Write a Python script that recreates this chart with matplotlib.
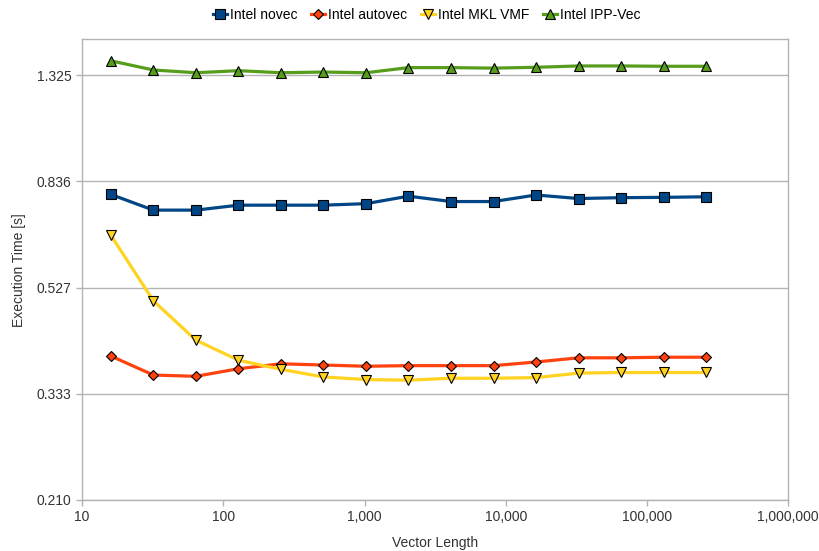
import matplotlib.pyplot as plt
import matplotlib.ticker as ticker

plt.rcParams['font.family'] = ['Liberation Sans', 'DejaVu Sans']

# vector lengths 2^4 .. 2^18
longitudes = [16, 32, 64, 128, 256, 512, 1024, 2048, 4096, 8192,
              16384, 32768, 65536, 131072, 262144]

novec = [0.790, 0.738, 0.738, 0.754, 0.754, 0.754, 0.759, 0.784,
         0.766, 0.766, 0.788, 0.776, 0.779, 0.780, 0.782]
autovec = [0.392, 0.361, 0.359, 0.371, 0.379, 0.377, 0.375, 0.376,
           0.376, 0.376, 0.382, 0.389, 0.389, 0.390, 0.390]
mkl_vmf = [0.662, 0.498, 0.420, 0.385, 0.370, 0.358, 0.354, 0.353,
           0.356, 0.356, 0.357, 0.364, 0.365, 0.365, 0.365]
ipp_vec = [1.410, 1.355, 1.339, 1.351, 1.339, 1.343, 1.339, 1.369,
           1.369, 1.366, 1.371, 1.379, 1.379, 1.377, 1.377]

etiquetas = ['Intel novec', 'Intel autovec', 'Intel MKL VMF', 'Intel IPP-Vec']
colores = ['#004586', '#ff420e', '#ffd320', '#579d1c']
marcadores = ['s', 'D', 'v', '^']
tamanos = [6.5, 5.5, 7, 7]

y_ticks = [0.210, 0.333, 0.527, 0.836, 1.325]
x_ticks = [10, 100, 1000, 10000, 100000, 1000000]

fig = plt.figure(figsize=(8.2, 5.51), dpi=100)
ax = fig.add_axes([0.1, 0.0926, 0.8613, 0.8361])

series = [novec, autovec, mkl_vmf, ipp_vec]
for datos, nombre, c, m, t in zip(series, etiquetas, colores, marcadores, tamanos):
    ax.plot(longitudes, datos, color=c, lw=2.3, marker=m, markersize=t,
            markerfacecolor=c, markeredgecolor='black', markeredgewidth=0.8,
            label=nombre, zorder=3)

ax.set_xscale('log')
ax.set_yscale('log')
ax.set_xlim(10, 1000000)
ax.set_ylim(0.210, 1.548)

ax.xaxis.set_major_locator(ticker.FixedLocator(x_ticks))
ax.xaxis.set_major_formatter(ticker.FuncFormatter(lambda v, p: '{:,.0f}'.format(v)))
ax.xaxis.set_minor_locator(ticker.NullLocator())
ax.yaxis.set_major_locator(ticker.FixedLocator(y_ticks))
ax.yaxis.set_major_formatter(ticker.FuncFormatter(lambda v, p: '{:.3f}'.format(v)))
ax.yaxis.set_minor_locator(ticker.NullLocator())

ax.grid(axis='y', color='#b3b3b3', lw=1)
ax.set_axisbelow(True)
for s in ax.spines.values():
    s.set_color('#b3b3b3')
    s.set_linewidth(1)
ax.tick_params(axis='both', colors='#b3b3b3', labelcolor='#333333',
               labelsize=10, length=4, width=1)

ax.set_xlabel('Vector Length', fontsize=10, color='#333333', labelpad=8)
ax.set_ylabel('Execution Time [s]', fontsize=10, color='#333333', labelpad=8)

ax.legend(loc='lower center', bbox_to_anchor=(0.488, 1.025), ncol=4, frameon=False,
          fontsize=10, handlelength=1.0, handletextpad=0.2, columnspacing=1.0,
          borderaxespad=0)

fig.savefig('out.png', dpi=100)
